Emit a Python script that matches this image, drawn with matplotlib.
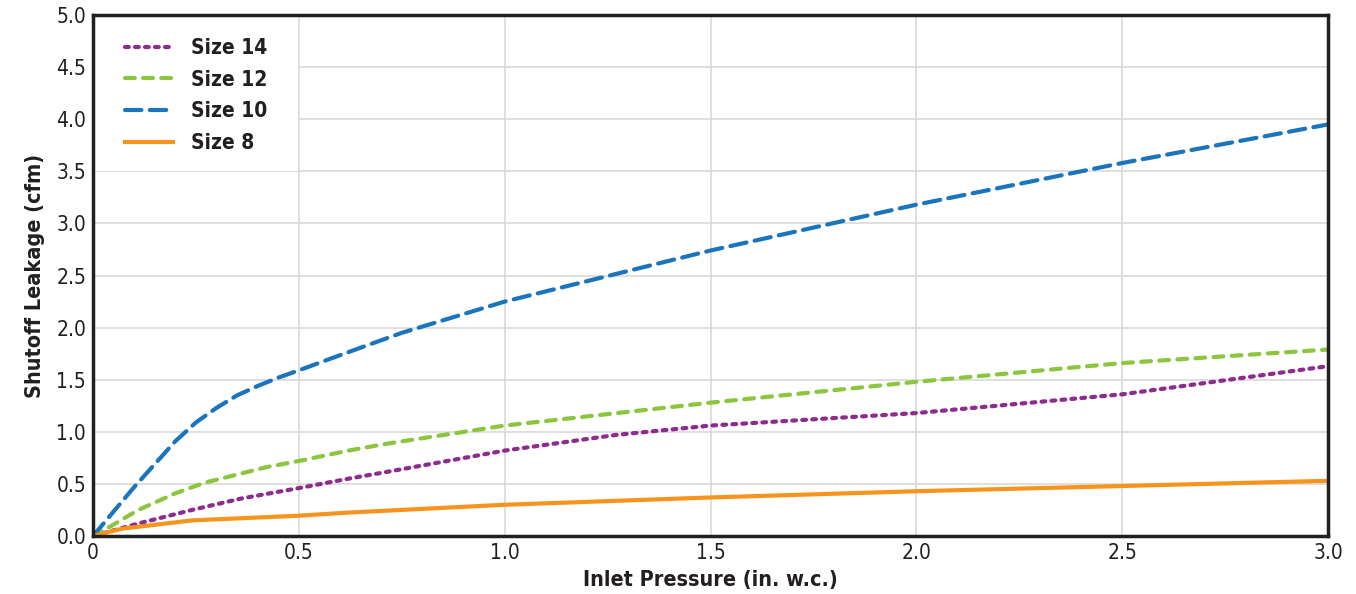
import numpy as np
import matplotlib.pyplot as plt
from matplotlib.patches import Rectangle

plt.rcParams['font.family'] = ['DejaVu Sans']
plt.rcParams['font.stretch'] = 'condensed'

# Shutoff leakage readings (cfm) vs inlet pressure (in. w.c.)
x14 = [0, 0.11, 0.24, 0.36, 0.5, 0.62, 0.72, 1.0, 1.27, 1.5, 2.0, 2.5, 3.0]
y14 = [0, 0.12, 0.25, 0.36, 0.46, 0.55, 0.62, 0.82, 0.97, 1.06, 1.18, 1.36, 1.63]

x12 = [0, 0.05, 0.11, 0.2, 0.27, 0.34, 0.42, 0.5, 0.62, 0.72, 1.0, 1.5, 2.0, 2.5, 3.0]
y12 = [0, 0.11, 0.25, 0.41, 0.51, 0.58, 0.66, 0.72, 0.82, 0.89, 1.06, 1.28, 1.48, 1.66, 1.79]

x10 = [0, 0.1, 0.15, 0.2, 0.25, 0.3, 0.35, 0.4, 0.45, 0.5, 0.61, 0.75, 1.0, 1.5, 2.0, 2.5, 3.0]
y10 = [0, 0.47, 0.69, 0.91, 1.09, 1.23, 1.35, 1.44, 1.52, 1.59, 1.75, 1.95, 2.25, 2.74, 3.18, 3.58, 3.95]

x8 = [0, 0.07, 0.24, 0.5, 0.62, 1.0, 1.5, 2.0, 2.5, 3.0]
y8 = [0, 0.07, 0.15, 0.195, 0.225, 0.30, 0.37, 0.43, 0.48, 0.53]

xticks = [0, 0.5, 1.0, 1.5, 2.0, 2.5, 3.0]
xticklabels = ['0', '0.5', '1.0', '1.5', '2.0', '2.5', '3.0']
yticks = np.arange(0, 5.01, 0.5)

fig = plt.figure(figsize=(13.56, 5.94), dpi=100)
ax = fig.add_axes([0.0686, 0.0976, 0.9108, 0.8771])

ax.plot(x14, y14, color='#8e2b8e', lw=3, linestyle=(0, (0.9, 1.5)),
        dash_capstyle='round', label='Size 14')
ax.plot(x12, y12, color='#8cc63f', lw=3, linestyle=(0, (2.35, 2.0)),
        dash_capstyle='round', label='Size 12')
ax.plot(x10, y10, color='#1a75bc', lw=3, linestyle=(0, (3.95, 2.0)),
        dash_capstyle='round', label='Size 10')
ax.plot(x8, y8, color='#f7941d', lw=3, label='Size 8')

# white panel behind the legend, like the original
ax.add_patch(Rectangle((0, 3.5), 0.497, 1.5, facecolor='white', edgecolor='none', zorder=0.6))

ax.set_xlim(0, 3.0)
ax.set_ylim(0, 5.0)
ax.set_xticks(xticks)
ax.set_xticklabels(xticklabels)
ax.set_yticks(yticks)
ax.set_yticklabels([f'{v:.1f}' for v in yticks])
ax.tick_params(length=0, labelsize=15, colors='#231f20', pad=5)
ax.grid(True, color='#d9d9d9', lw=1.2)
ax.set_axisbelow(True)
for s in ax.spines.values():
    s.set_linewidth(2.5)
    s.set_color('#231f20')

ax.set_xlabel('Inlet Pressure (in. w.c.)', fontsize=15.5, fontweight='bold', color='#231f20', labelpad=5)
ax.set_ylabel('Shutoff Leakage (cfm)', fontsize=15.5, fontweight='bold', color='#231f20', labelpad=8)

leg = ax.legend(loc='upper left', bbox_to_anchor=(0.0259, 0.956), frameon=False,
                borderaxespad=0, borderpad=0, handlelength=2.3,
                handletextpad=0.87, labelspacing=0.56,
                prop={'size': 15, 'weight': 'bold', 'stretch': 'condensed'})
for t in leg.get_texts():
    t.set_color('#231f20')

fig.savefig('out.png', dpi=100)
